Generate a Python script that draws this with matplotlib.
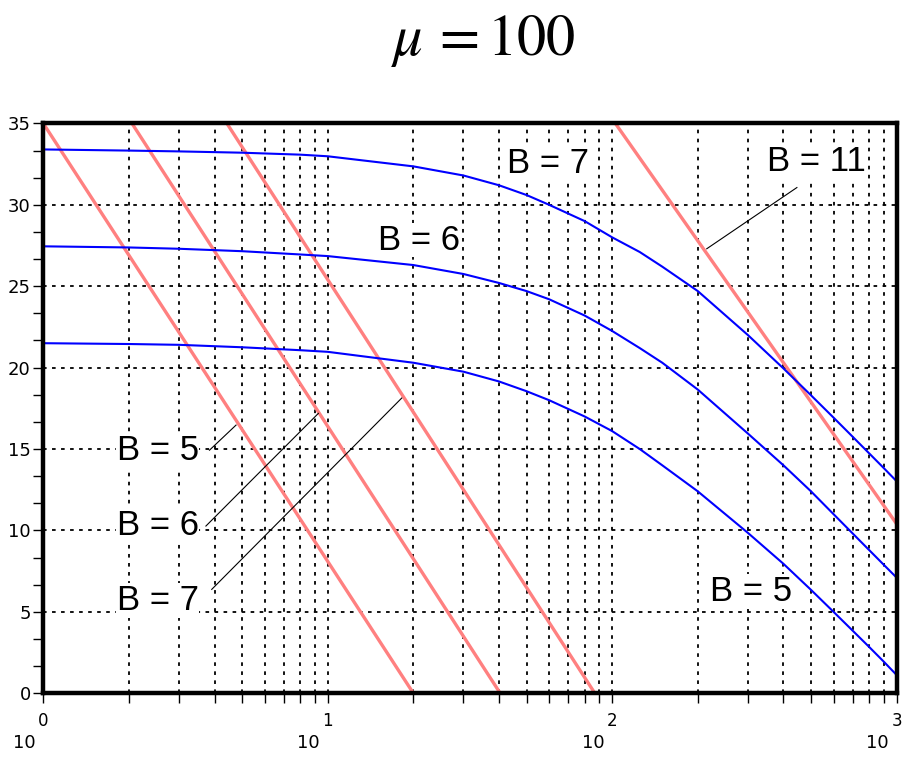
import numpy as np
import matplotlib.pyplot as plt
from matplotlib.ticker import MultipleLocator, NullFormatter, LogLocator
from matplotlib.transforms import offset_copy

plt.rcParams['mathtext.fontset'] = 'stix'

# blue curves (x, y)
x_blue = [1, 2, 3, 5, 8, 10, 20, 30, 40, 50, 60, 80, 100, 125, 150, 200, 300, 400, 500, 600, 700, 800, 900, 1000]
y_b7 = [33.4, 33.33, 33.28, 33.2, 33.08, 32.98, 32.36, 31.8, 31.2, 30.6, 30.0, 29.0, 28.0, 27.1, 26.2, 24.7, 22.0, 19.95, 18.3, 16.93, 15.76, 14.74, 13.84, 13.02]
y_b6 = [27.45, 27.38, 27.3, 27.15, 26.95, 26.85, 26.3, 25.75, 25.2, 24.7, 24.2, 23.2, 22.25, 21.2, 20.3, 18.65, 15.95, 14.0, 12.4, 11.0, 9.82, 8.8, 7.9, 7.1]
y_b5 = [21.5, 21.45, 21.4, 21.25, 21.07, 20.97, 20.3, 19.75, 19.15, 18.55, 18.0, 17.0, 16.1, 15.0, 14.0, 12.4, 9.85, 7.95, 6.35, 5.0, 3.85, 2.85, 1.95, 1.12]

# red straight lines, end points
red_x = [[1, 20.0], [2.05, 40.4], [4.42, 86.9], [102.6, 1000]]
red_y = [[35, 0], [35, 0], [35, 0], [35, 10.4]]

# labels: text, x, y
labels = [("B = 5", 1.81, 14.9), ("B = 6", 1.81, 10.3), ("B = 7", 1.81, 5.7),
          ("B = 7", 42.6, 32.55), ("B = 6", 15.0, 27.83), ("B = 11", 350, 32.65),
          ("B = 5", 221, 6.25)]

# leader lines from labels to red lines
leaders = [([3.84, 4.76], [14.93, 16.47]), ([3.73, 9.27], [10.27, 17.19]),
           ([3.91, 18.2], [6.38, 18.13]), ([215, 446], [27.3, 31.06])]

fig, ax = plt.subplots(figsize=(9.17, 7.57), dpi=100)
fig.subplots_adjust(left=0.0472, right=0.9778, bottom=0.0842, top=0.837)

ax.set_xscale('log')
ax.set_xlim(1, 1000)
ax.set_ylim(0, 35)

for i in range(len(red_x)):
    ax.plot(red_x[i], red_y[i], color='#ff8080', lw=2.4, zorder=2)
for y in [y_b7, y_b6, y_b5]:
    ax.plot(x_blue, y, color='#0000ff', lw=1.5, zorder=2.5)

for lx, ly in leaders:
    ax.plot(lx, ly, color='black', lw=0.8, zorder=2.6)

for txt, x, y in labels:
    ax.text(x, y, txt, fontsize=25, family='Liberation Sans', ha='left', va='center',
            zorder=3, bbox=dict(facecolor='white', edgecolor='none', pad=0.5))

# grid
ax.yaxis.set_major_locator(MultipleLocator(5))
ax.yaxis.set_minor_locator(MultipleLocator(5 / 3))
ax.xaxis.set_major_locator(LogLocator(base=10))
ax.xaxis.set_minor_locator(LogLocator(base=10, subs=np.arange(2, 10)))
ax.xaxis.grid(True, which='both', color='black', linestyle=(0, (2, 3)), lw=1.3)
ax.yaxis.grid(True, which='major', color='black', linestyle=(0, (2, 3)), lw=1.3)
ax.set_axisbelow(True)

for s in ax.spines.values():
    s.set_linewidth(3.2)

ax.tick_params(axis='both', which='both', direction='out', length=7, width=1)
ax.xaxis.set_major_formatter(NullFormatter())
ax.xaxis.set_minor_formatter(NullFormatter())
ax.tick_params(axis='y', labelsize=13, pad=2)
for t in ax.get_yticklabels():
    t.set_family(['Liberation Sans Narrow', 'DejaVu Sans'])

# x labels: exponent above "10"
trans = ax.get_xaxis_transform()
trans_left = offset_copy(trans, fig=fig, x=-8, y=0, units='dots')
for e in [0, 1, 2, 3]:
    ax.text(10 ** e, -0.048, str(e), transform=trans, ha='center', va='center',
            fontsize=12, family=['Liberation Sans Narrow', 'DejaVu Sans'])
    ax.text(10 ** e, -0.088, "10", transform=trans_left, ha='right', va='center',
            fontsize=13, family=['Liberation Sans Narrow', 'DejaVu Sans'])

fig.text(0.527, 0.947, r'$\mu\,=100$', fontsize=42, ha='center', va='center')

plt.savefig('out.png', dpi=100)
